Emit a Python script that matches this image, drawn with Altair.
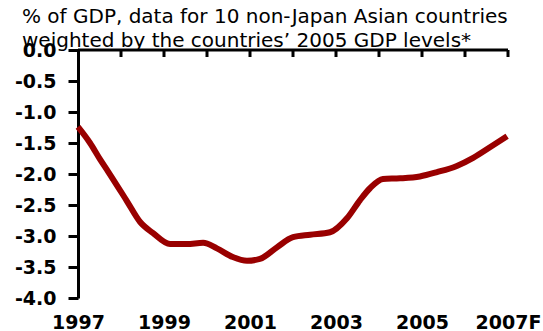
import altair as alt
import pandas as pd

# Current-account style balance, % of GDP (weighted aggregate of 10 Asian economies)
years = [1997.0, 1997.28, 1997.51, 1997.70, 1998.14, 1998.44, 1998.74, 1999.14,
         1999.53, 1999.91, 2000.23, 2000.60, 2000.93, 2001.23, 2001.63, 2002.0,
         2002.40, 2002.86, 2003.26, 2003.56, 2003.79, 2004.09, 2004.49, 2004.95,
         2005.35, 2005.81, 2006.19, 2006.58, 2006.98]
balance = [-1.24, -1.50, -1.76, -1.96, -2.44, -2.77, -2.95, -3.13,
           -3.13, -3.11, -3.20, -3.34, -3.40, -3.37, -3.18, -3.02,
           -2.98, -2.94, -2.71, -2.42, -2.23, -2.08, -2.07, -2.04,
           -1.97, -1.87, -1.74, -1.57, -1.39]

y_ticks = [0.0, -0.5, -1.0, -1.5, -2.0, -2.5, -3.0, -3.5, -4.0]
x_label_years = [1997, 1999, 2001, 2003, 2005, 2007]
x_label_text = ["1997", "1999", "2001", "2003", "2005", "2007F"]
x_tick_years = [1998, 1999, 2000, 2001, 2002, 2003, 2004, 2005, 2006, 2007]
title_lines = ["% of GDP, data for 10 non-Japan Asian countries",
               "weighted by the countries\u2019 2005 GDP levels*"]

FONT = "DejaVu Sans"
LINE_RED = "#990000"

df = pd.DataFrame({"year": years, "pct": balance})

# label expression mapping tick values to their printed text
x_label_expr = "".join(
    f"datum.value == {v} ? '{t}' : " for v, t in zip(x_label_years, x_label_text)
) + "''"
y_label_expr = "(datum.value < 0 ? '-' : '') + format(abs(datum.value), '.1f')"

x_scale = alt.Scale(domain=[1997, 2007], nice=False, zero=False)
y_scale = alt.Scale(domain=[-4, 0], nice=False, zero=False)

x_axis = alt.Axis(values=x_label_years, labelExpr=x_label_expr,
                  domain=False, ticks=False, tickSize=0, grid=False,
                  labelFont=FONT, labelFontWeight="bold", labelFontSize=19,
                  labelColor="black", labelPadding=15, labelFlush=False,
                  labelOverlap=False, title=None)
y_axis = alt.Axis(values=y_ticks, labelExpr=y_label_expr, grid=False,
                  domainColor="black", domainWidth=3,
                  tickColor="black", tickWidth=3, tickSize=10,
                  labelFont=FONT, labelFontWeight="bold", labelFontSize=19,
                  labelColor="black", labelPadding=12, labelOverlap=False,
                  labelBound=False, title=None)

line = alt.Chart(df).mark_line(
    color=LINE_RED, strokeWidth=6, interpolate="monotone", strokeCap="butt"
).encode(
    x=alt.X("year:Q", scale=x_scale, axis=x_axis),
    y=alt.Y("pct:Q", scale=y_scale, axis=y_axis),
)

# horizontal zero line across the top of the plot
zero_line = alt.Chart(pd.DataFrame({"x0": [1997], "x1": [2007], "y0": [0.0]})).mark_rule(
    color="black", strokeWidth=3
).encode(
    x=alt.X("x0:Q", scale=x_scale, axis=x_axis), x2="x1:Q",
    y=alt.Y("y0:Q", scale=y_scale, axis=y_axis),
)

# yearly tick marks hanging down from the zero line
year_ticks = alt.Chart(pd.DataFrame({"tick": x_tick_years})).mark_rule(
    color="black", strokeWidth=3
).encode(
    x=alt.X("tick:Q", scale=x_scale, axis=x_axis), y=alt.value(0), y2=alt.value(7)
)

def title_text(text, y):
    return alt.Chart(pd.DataFrame({"t": [text]})).mark_text(
        align="left", baseline="alphabetic", font=FONT, fontSize=20, color="black"
    ).encode(text="t:N", x=alt.value(-56), y=alt.value(y))

chart = alt.layer(
    line, zero_line, year_ticks,
    title_text(title_lines[0], -27), title_text(title_lines[1], -3),
).properties(
    width=430, height=248,
    autosize=alt.AutoSizeParams(type="none"),
    padding={"left": 78, "top": 50, "right": 35, "bottom": 33},
    background="white",
).configure_view(stroke=None)

chart.save("out.html", embed_options={"renderer": "svg", "actions": False})
